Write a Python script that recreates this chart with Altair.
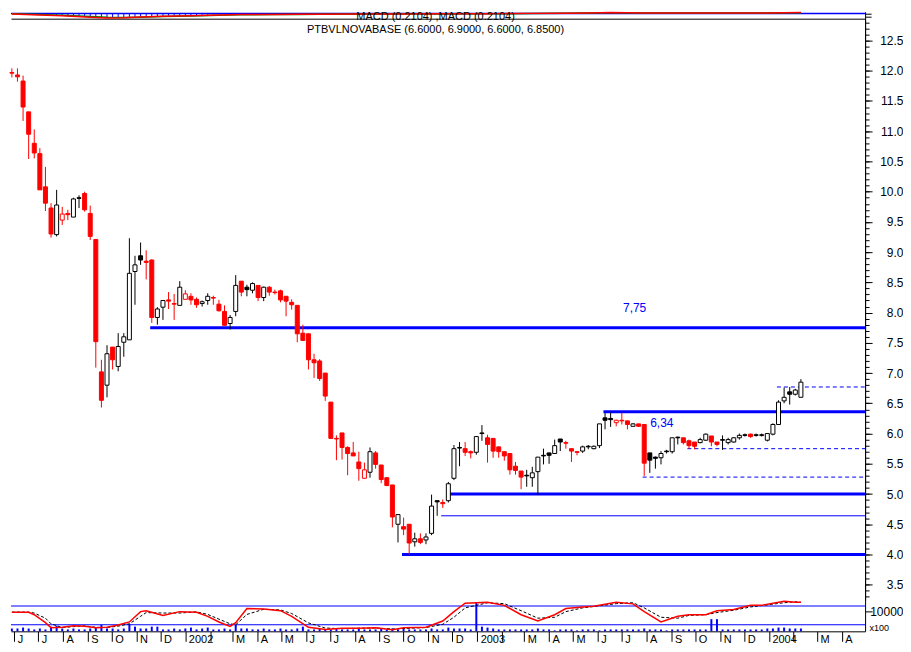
import altair as alt
import pandas as pd
import numpy as np

# ---------------- weekly OHLC ----------------
opens = [11.97, 11.93, 11.83, 11.32, 10.80, 10.63, 10.08, 9.73, 9.29, 9.53,
         9.64, 9.58, 9.90, 9.97, 9.64, 9.21, 7.02, 6.80, 7.43, 7.11,
         7.51, 7.55, 8.68, 8.94, 8.85, 8.87, 7.92, 8.09, 8.21, 8.15,
         8.12, 8.22, 8.27, 8.22, 8.15, 8.20, 8.25, 8.14, 8.02, 7.82,
         8.02, 8.52, 8.42, 8.37, 8.45, 8.25, 8.42, 8.34, 8.36, 8.27,
         8.17, 8.12, 7.66, 7.65, 7.22, 7.20, 7.00, 6.52, 5.92, 6.01,
         5.77, 5.68, 5.53, 5.26, 5.36, 5.68, 5.48, 5.27, 5.15, 4.50,
         4.46, 4.50, 4.21, 4.26, 4.24, 4.35, 4.89, 4.86, 4.89, 5.26,
         5.77, 5.75, 5.70, 5.69, 6.01, 5.93, 5.92, 5.78, 5.70, 5.67,
         5.46, 5.38, 5.31, 5.27, 5.37, 5.64, 5.68, 5.67, 5.91, 5.85,
         5.75, 5.70, 5.71, 5.79, 5.75, 5.80, 6.26, 6.25, 6.18, 6.22,
         6.21, 6.12, 6.16, 6.15, 5.68, 5.61, 5.60, 5.71, 5.70, 5.94,
         5.93, 5.88, 5.86, 5.85, 5.89, 5.96, 5.86, 5.90, 5.85, 5.86,
         5.93, 5.98, 5.99, 5.98, 5.98, 5.89, 5.99, 6.15, 6.54, 6.69,
         6.65, 6.60]
highs = [12.04, 12.04, 11.92, 11.32, 11.03, 10.72, 10.41, 9.81, 10.03, 9.75,
         9.70, 9.90, 9.94, 10.00, 9.77, 9.21, 7.22, 7.46, 7.43, 7.66,
         7.66, 9.23, 8.94, 9.16, 9.03, 8.88, 8.09, 8.21, 8.34, 8.31,
         8.52, 8.37, 8.32, 8.25, 8.20, 8.32, 8.28, 8.21, 8.12, 7.96,
         8.62, 8.52, 8.46, 8.50, 8.45, 8.43, 8.44, 8.38, 8.38, 8.27,
         8.22, 8.12, 7.80, 7.65, 7.32, 7.23, 7.00, 6.52, 5.97, 6.01,
         5.79, 5.86, 5.70, 5.52, 5.77, 5.71, 5.48, 5.27, 5.15, 4.66,
         4.61, 4.50, 4.36, 4.35, 4.35, 4.99, 4.89, 4.91, 5.20, 5.81,
         5.86, 5.86, 5.72, 5.96, 6.14, 5.98, 5.92, 5.78, 5.70, 5.67,
         5.53, 5.38, 5.40, 5.45, 5.61, 5.75, 5.68, 5.90, 5.91, 5.88,
         5.75, 5.70, 5.80, 5.81, 5.80, 6.16, 6.34, 6.35, 6.23, 6.34,
         6.21, 6.17, 6.16, 6.15, 5.68, 5.62, 5.71, 5.73, 5.93, 5.95,
         5.93, 5.90, 5.86, 5.93, 6.00, 5.96, 5.86, 5.97, 5.93, 5.94,
         6.00, 6.00, 6.00, 6.00, 6.00, 6.00, 6.17, 6.55, 6.76, 6.77,
         6.74, 6.90]
lows = [11.89, 11.82, 11.17, 10.54, 10.55, 10.03, 9.68, 9.24, 9.26, 9.45,
        9.53, 9.58, 9.73, 9.67, 9.20, 7.09, 6.43, 6.60, 7.06, 7.03,
        7.27, 7.55, 8.13, 8.79, 8.55, 7.83, 7.80, 7.88, 8.06, 7.88,
        8.12, 8.22, 8.13, 8.08, 8.10, 8.13, 8.13, 8.02, 7.79, 7.72,
        7.94, 8.27, 8.27, 8.32, 8.19, 8.19, 8.28, 8.30, 8.17, 7.94,
        8.05, 7.51, 7.54, 7.06, 6.92, 6.87, 6.54, 5.92, 5.56, 5.57,
        5.31, 5.63, 5.22, 5.26, 5.27, 5.42, 5.18, 5.13, 4.45, 4.20,
        4.32, 4.00, 4.13, 4.17, 4.17, 4.32, 4.64, 4.77, 4.86, 5.23,
        5.46, 5.63, 5.59, 5.65, 5.88, 5.52, 5.60, 5.60, 5.55, 5.32,
        5.32, 5.08, 5.12, 5.12, 4.99, 5.49, 5.50, 5.67, 5.71, 5.75,
        5.53, 5.64, 5.68, 5.74, 5.74, 5.76, 6.07, 6.11, 6.12, 6.15,
        6.07, 6.12, 6.11, 5.30, 5.35, 5.42, 5.49, 5.67, 5.67, 5.82,
        5.82, 5.75, 5.74, 5.84, 5.88, 5.79, 5.79, 5.73, 5.82, 5.85,
        5.90, 5.95, 5.93, 5.95, 5.95, 5.87, 5.97, 6.15, 6.50, 6.48,
        6.63, 6.60]
closes = [11.96, 11.90, 11.40, 10.95, 10.64, 10.03, 9.81, 9.30, 9.78, 9.63,
          9.62, 9.88, 9.89, 9.70, 9.26, 7.52, 6.55, 7.32, 7.22, 7.44,
          7.60, 8.65, 8.79, 8.87, 8.83, 7.92, 8.06, 8.20, 8.19, 8.14,
          8.42, 8.31, 8.21, 8.13, 8.18, 8.27, 8.24, 8.03, 7.79, 7.92,
          8.45, 8.34, 8.38, 8.48, 8.25, 8.42, 8.34, 8.33, 8.21, 8.19,
          8.13, 7.65, 7.54, 7.22, 7.17, 6.91, 6.62, 5.92, 5.91, 5.77,
          5.67, 5.63, 5.42, 5.40, 5.70, 5.49, 5.24, 5.14, 4.62, 4.66,
          4.42, 4.19, 4.26, 4.20, 4.29, 4.80, 4.87, 4.84, 5.17, 5.75,
          5.76, 5.69, 5.68, 5.95, 6.00, 5.82, 5.71, 5.70, 5.63, 5.40,
          5.39, 5.28, 5.30, 5.35, 5.61, 5.63, 5.64, 5.80, 5.86, 5.84,
          5.71, 5.69, 5.78, 5.78, 5.79, 6.16, 6.22, 6.23, 6.22, 6.21,
          6.15, 6.16, 6.12, 5.51, 5.56, 5.59, 5.67, 5.70, 5.93, 5.93,
          5.85, 5.80, 5.79, 5.90, 5.99, 5.86, 5.82, 5.89, 5.90, 5.93,
          5.97, 5.97, 5.95, 5.97, 5.97, 6.00, 6.15, 6.52, 6.60, 6.65,
          6.72, 6.85]
volumes = [300, 300, 400, 300, 200, 300, 200, 500, 600, 300,
           200, 300, 200, 200, 300, 400, 700, 300, 300, 200,
           300, 800, 500, 300, 300, 500, 500, 200, 200, 300,
           200, 300, 400, 200, 300, 400, 200, 200, 300, 200,
           700, 300, 300, 200, 200, 300, 200, 200, 300, 200,
           200, 300, 500, 200, 200, 300, 200, 200, 300, 200,
           200, 200, 300, 200, 200, 200, 300, 200, 300, 200,
           300, 200, 200, 200, 200, 300, 200, 200, 400, 300,
           300, 300, 200, 3100, 500, 400, 300, 200, 200, 200,
           200, 200, 200, 200, 300, 200, 200, 100, 200, 200,
           200, 100, 200, 200, 200, 100, 200, 200, 200, 200,
           200, 200, 200, 300, 200, 200, 200, 100, 200, 200,
           200, 200, 200, 200, 200, 1300, 1300, 200, 200, 200,
           200, 200, 200, 200, 200, 300, 300, 400, 400, 300,
           300, 300]

# ---------------- lower indicator (x100) ----------------
osc_idx = [1, 4, 5, 7, 8, 10, 12, 14, 16, 18, 20, 22, 24, 25, 28, 31, 34, 36, 38, 40,
           41, 43, 46, 49, 51, 54, 57, 60, 63, 66, 69, 71, 75, 78, 80, 82, 86, 89, 92, 95,
           98, 100, 103, 105, 109, 112, 114, 117, 120, 122, 125, 127, 130, 133, 135, 139, 141, 142]
osc_red = [9930, 9930, 9670, 8830, 8270, 8330, 8500, 8430, 8270, 8330, 8570, 8900, 10000, 10100, 9600, 10000, 9930, 9500, 8900, 8430,
           8830, 10330, 10270, 10100, 9500, 8330, 8100, 8230, 8230, 8270, 8070, 8270, 8330, 9000, 10000, 10900, 11000, 10670, 9670, 9000,
           9670, 10330, 10500, 10570, 11000, 10830, 10000, 8900, 9500, 9670, 9670, 10100, 10230, 10670, 10670, 11100, 11000, 11000]
osc_black = [9950, 9950, 9850, 9300, 8700, 8300, 8400, 8480, 8330, 8300, 8450, 8700, 9500, 9900, 9850, 9850, 9980, 9700, 9200, 8700,
             8600, 9700, 10250, 10180, 9800, 8800, 8250, 8180, 8230, 8250, 8150, 8200, 8300, 8650, 9400, 10400, 10950, 10850, 10100, 9300,
             9400, 10000, 10400, 10550, 10850, 10950, 10400, 9400, 9300, 9600, 9670, 9900, 10150, 10500, 10650, 10950, 11050, 11000]
osc_bands = [10600, 8600]

# ---------------- MACD strip (top, cut off) ----------------
macd_idx = [1, 6, 10, 15, 18, 21, 24, 28, 33, 38, 42, 48, 52, 56, 62, 70, 78, 86, 94, 100, 104, 108, 114, 120, 128, 136, 142]
macd_line = [-0.10, -0.30, -0.45, -0.75, -0.90, -0.85, -0.70, -0.55, -0.45, -0.30, -0.22, -0.20, -0.18, -0.15, -0.12, -0.10,
             -0.08, -0.04, 0.02, 0.05, 0.12, 0.18, 0.10, 0.08, 0.10, 0.12, 0.21]
macd_signal = [-0.05, -0.22, -0.35, -0.60, -0.78, -0.82, -0.75, -0.62, -0.50, -0.38, -0.28, -0.22, -0.20, -0.17, -0.14, -0.12,
               -0.10, -0.06, -0.01, 0.03, 0.08, 0.14, 0.12, 0.09, 0.09, 0.10, 0.17]
hist_first_idx = 3
macd_hist = [-0.12, -0.18, -0.22, -0.30, -0.34, -0.40, -0.42, -0.47, -0.50, -0.55,
             -0.60, -0.66, -0.72, -0.78, -0.80, -0.85, -0.82, -0.80, -0.76, -0.70,
             -0.68, -0.62, -0.60, -0.55, -0.52, -0.50, -0.47, -0.45, -0.42, -0.38,
             -0.35, -0.33, -0.30, -0.28, -0.25, -0.24, -0.22, -0.20, -0.20, -0.18,
             -0.16, -0.15]

# ---------------- support / resistance lines ----------------
thick_levels = [7.75, 6.36, 5.00, 4.00]
thick_start = [26, 107, 79, 71]
thin_levels = [4.64]
thin_start = [78]
dash_levels = [6.77, 5.75, 5.28]
dash_start = [138, 122, 114]

note_texts = ["7,75", "6,34"]
note_dates = ["2003-07-17", "2003-08-20"]
note_prices = [8.07, 6.18]

title_text = "PTBVLNOVABASE (6.6000, 6.9000, 6.6000, 6.8500)"
title_date = "2002-11-10"
title_price = 12.68
macd_text = "MACD (0.2104) ,MACD (0.2104)"
macd_text_value = -0.75

# ---------------- build tables ----------------
dates = pd.date_range("2001-05-29", periods=len(opens), freq="7D")
x_end = pd.Timestamp("2004-04-30 07:00")

df = pd.DataFrame({"date": dates, "open": opens, "high": highs, "low": lows,
                   "close": closes, "volume": volumes})
prev = df["close"].shift(1).fillna(df["open"])
df["kind"] = np.where(df["close"] >= df["open"],
                      np.where(df["close"] >= prev, "up", "up_red"),
                      np.where(df["close"] < prev, "down", "down_black"))


def level_df(levels, starts):
    return pd.DataFrame({"start": [dates[i - 1] - pd.Timedelta(days=2) for i in starts],
                         "end": [x_end] * len(levels), "level": levels})


thick_df = level_df(thick_levels, thick_start)
thin_df = level_df(thin_levels, thin_start)
dash_df = level_df(dash_levels, dash_start)
notes_df = pd.DataFrame({"date": pd.to_datetime(note_dates), "price": note_prices, "t": note_texts})
title_df = pd.DataFrame({"date": [pd.Timestamp(title_date)], "price": [title_price], "t": [title_text]})

osc_df = pd.DataFrame({"date": [dates[i - 1] for i in osc_idx], "red": osc_red, "black": osc_black})
bands_df = pd.DataFrame({"v": osc_bands})

macd_df = pd.DataFrame({"date": [dates[i - 1] for i in macd_idx], "macd": macd_line, "signal": macd_signal})
hist_df = pd.DataFrame({"date": dates[hist_first_idx - 1: hist_first_idx - 1 + len(macd_hist)],
                        "v": macd_hist, "zero": 0.0})
zero_df = pd.DataFrame({"v": [0.0]})
mtext_df = pd.DataFrame({"date": [pd.Timestamp(title_date)], "v": [macd_text_value], "t": [macd_text]})

# ---------------- styling ----------------
FONT = "Liberation Sans"
BLUE = "#0000ff"
RED = "#ff0000"
W = 856
H_TOP, H_MAIN, H_BOT = 7, 583, 31
PRICE_LO, PRICE_HI = 3.241, 12.861

xscale = alt.Scale(domain=[alt.DateTime(year=2001, month=5, date=27, hours=21, minutes=36),
                           alt.DateTime(year=2004, month=4, date=30, hours=7)],
                   padding=0)
x_top_axis = alt.Axis(labels=False, ticks=False, domain=True, domainColor="black",
                      grid=False, title=None)
x_main_axis = alt.Axis(labels=False, ticks=False, domain=False, grid=False, title=None)

kinds = ["up", "up_red", "down", "down_black"]
stroke_scale = alt.Scale(domain=kinds, range=["#000000", RED, RED, "#000000"])
fill_scale = alt.Scale(domain=kinds, range=["#ffffff", "#ffffff", RED, "#000000"])

ymain = alt.Scale(domain=[PRICE_LO, PRICE_HI], nice=False, zero=False, padding=0)
yminor = alt.Scale(domain=[PRICE_LO, PRICE_HI], nice=False, zero=False, padding=0)
y_main_axis = alt.Axis(orient="right", values=[3.5 + 0.5 * i for i in range(19)], format=".1f",
                       tickSize=7, tickColor="black", domainColor="black", labelFont=FONT,
                       labelFontSize=12, labelColor="black", labelAlign="right", labelPadding=31,
                       labelOverlap=False, grid=False, title=None)
y_minor_axis = alt.Axis(orient="right", values=[round(3.3 + 0.1 * i, 1) for i in range(96)],
                        labels=False, tickSize=4, tickColor="black", domainColor="black",
                        grid=False, title=None)


def xm(field="date"):
    return alt.X(f"{field}:T", scale=xscale, axis=x_main_axis)


def xt(field="date"):
    return alt.X(f"{field}:T", scale=xscale, axis=x_top_axis)


def ym(field):
    return alt.Y(f"{field}:Q", scale=ymain, axis=y_main_axis)


# ---------------- main panel ----------------
minor_ticks = alt.Chart(df).mark_point(opacity=0).encode(
    x=xm(), y=alt.Y("close:Q", scale=yminor, axis=y_minor_axis))
wicks = alt.Chart(df).mark_rule(strokeWidth=1).encode(
    x=xm(), y=ym("low"), y2="high:Q",
    stroke=alt.Stroke("kind:N", scale=stroke_scale, legend=None))
bodies = alt.Chart(df).mark_bar(size=4, strokeWidth=1).encode(
    x=xm(), y=ym("open"), y2="close:Q",
    fill=alt.Fill("kind:N", scale=fill_scale, legend=None),
    stroke=alt.Stroke("kind:N", scale=stroke_scale, legend=None))
thick = alt.Chart(thick_df).mark_rule(color=BLUE, strokeWidth=3).encode(
    x=xm("start"), x2="end:T", y=ym("level"))
thin = alt.Chart(thin_df).mark_rule(color=BLUE, strokeWidth=1).encode(
    x=xm("start"), x2="end:T", y=ym("level"))
dashed = alt.Chart(dash_df).mark_rule(color=BLUE, strokeWidth=1, strokeDash=[4, 3]).encode(
    x=xm("start"), x2="end:T", y=ym("level"))
notes = alt.Chart(notes_df).mark_text(color=BLUE, font=FONT, fontSize=12).encode(
    x=xm(), y=ym("price"), text="t:N")
title = alt.Chart(title_df).mark_text(color="black", font=FONT, fontSize=11).encode(
    x=xm(), y=ym("price"), text="t:N")

price_layer = alt.layer(thin, dashed, thick, wicks, bodies, notes, title)
main = alt.layer(minor_ticks, price_layer).resolve_scale(y="independent").properties(width=W, height=H_MAIN)

# ---------------- top MACD strip ----------------
ytop = alt.Scale(domain=[-1.06, 0.36], nice=False, zero=False, padding=0)
y_top_axis = alt.Axis(orient="right", values=[0.0, -0.7], labels=False, tickSize=6,
                      tickColor="black", domainColor="black", grid=False, title=None)


def yt(field):
    return alt.Y(f"{field}:Q", scale=ytop, axis=y_top_axis)


zero_line = alt.Chart(zero_df).mark_rule(color=BLUE, strokeWidth=1.5).encode(y=yt("v"))
hist = alt.Chart(hist_df).mark_rule(color=BLUE, strokeWidth=1).encode(x=xt(), y=yt("zero"), y2="v:Q")
m_line = alt.Chart(macd_df).mark_line(color=RED, strokeWidth=1.5).encode(x=xt(), y=yt("macd"))
s_line = alt.Chart(macd_df).mark_line(color="#008000", strokeWidth=1.5).encode(x=xt(), y=yt("signal"))
m_text = alt.Chart(mtext_df).mark_text(color="black", font=FONT, fontSize=11).encode(
    x=xt(), y=yt("v"), text="t:N")
top = alt.layer(hist, zero_line, s_line, m_line, m_text).properties(width=W, height=H_TOP)

# ---------------- bottom indicator + volume ----------------
month_expr = ("month(datum.value) == 0 ? timeFormat(datum.value, '%Y') : "
              "(month(datum.value) == 1 ? '' : slice(timeFormat(datum.value, '%B'), 0, 1))")
x_bottom_axis = alt.Axis(tickCount={"interval": "month", "step": 1}, labelExpr=month_expr,
                         tickSize=10, labelPadding=-8, labelAlign="left", labelOffset=3,
                         labelFont=FONT, labelFontSize=11, labelColor="black",
                         tickColor="black", domainColor="black", labelOverlap=False,
                         labelFlush=False, labelBound=False, grid=False, title=None)


def xb(field="date"):
    return alt.X(f"{field}:T", scale=xscale, axis=x_bottom_axis)


yosc = alt.Scale(domain=[7900, 11200], nice=False, zero=False, padding=0)
y_osc_axis = alt.Axis(orient="right", values=[10000], format="d", tickSize=7, tickColor="black",
                      domainColor="black", labelFont=FONT, labelFontSize=12, labelColor="black",
                      labelAlign="right", labelPadding=31, grid=False,
                      title="x100", titleAngle=0, titleFont=FONT, titleFontSize=9,
                      titleFontWeight="normal", titleColor="black", titleX=4, titleY=27,
                      titleAlign="left", titleBaseline="middle")


def yo(field):
    return alt.Y(f"{field}:Q", scale=yosc, axis=y_osc_axis)


vol = alt.Chart(df).mark_bar(size=2, color=BLUE).encode(
    x=xb(), y=alt.Y("volume:Q", scale=alt.Scale(domain=[0, 3300], nice=False, padding=0), axis=None))
bands = alt.Chart(bands_df).mark_rule(color=BLUE, strokeWidth=1).encode(y=yo("v"))
osc_black_line = alt.Chart(osc_df).mark_line(color="black", strokeWidth=1, strokeDash=[3, 2]).encode(
    x=xb(), y=yo("black"))
osc_red_line = alt.Chart(osc_df).mark_line(color=RED, strokeWidth=1.5).encode(x=xb(), y=yo("red"))
osc_layer = alt.layer(bands, osc_black_line, osc_red_line)
bottom = alt.layer(vol, osc_layer).resolve_scale(y="independent").properties(width=W, height=H_BOT)

chart = (alt.vconcat(top, main, bottom, spacing=0, bounds="flush")
         .properties(padding={"left": 0, "top": 0, "right": 0, "bottom": 0})
         .configure(font=FONT, background="white", padding={"left": 0, "top": 0, "right": 0, "bottom": 0})
         .configure_view(stroke=None))

chart.save("out.html", embed_options={"renderer": "svg", "actions": False})
